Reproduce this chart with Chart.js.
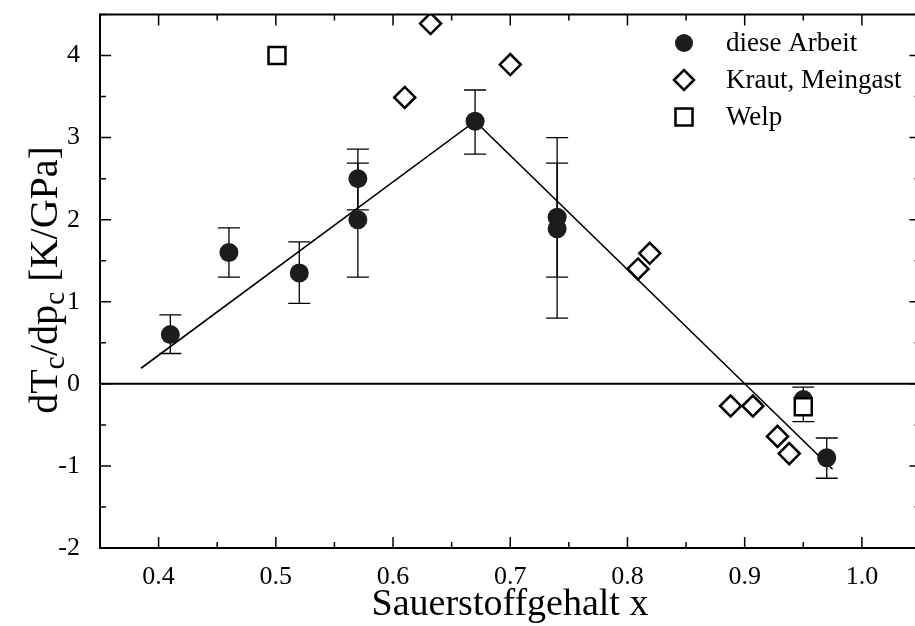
<!DOCTYPE html>
<html>
<head>
<meta charset="utf-8">
<script src="https://cdn.jsdelivr.net/npm/chart.js@4.4.1/dist/chart.umd.min.js"></script>
<style>
  html, body { margin: 0; padding: 0; background: #fff; overflow: hidden; }
  #wrap { width: 915px; height: 626px; overflow: hidden; }
</style>
</head>
<body>
<div id="wrap"><canvas id="chart" width="935" height="626"></canvas></div>
<script>
const SERIF = "'Liberation Serif', 'Times New Roman', serif";

// diese Arbeit (with error bars)
const arbeitX = [0.41, 0.46, 0.52, 0.57, 0.57, 0.67, 0.74, 0.74, 0.95, 0.97];
const arbeitY = [0.6, 1.6, 1.35, 2.5, 2.0, 3.2, 2.03, 1.89, -0.19, -0.9];
const arbeitLo = [0.37, 1.3, 0.98, 2.12, 1.3, 2.8, 1.3, 0.8, -0.46, -1.15];
const arbeitHi = [0.84, 1.9, 1.73, 2.86, 2.69, 3.58, 2.69, 3.0, -0.04, -0.66];

// Kraut, Meingast
const krautX = [0.61, 0.632, 0.70, 0.809, 0.819, 0.888, 0.907, 0.928, 0.938];
const krautY = [3.49, 4.39, 3.89, 1.4, 1.59, -0.27, -0.27, -0.64, -0.85];

// Welp
const welpX = [0.501, 0.95];
const welpY = [4.0, -0.28];

// guide line through the data
const fitX = [0.385, 0.67, 0.975];
const fitY = [0.19, 3.2, -1.04];

const zeroX = [0.35, 1.05];
const zeroY = [0, 0];

const legendLabels = ["diese Arbeit", "Kraut, Meingast", "Welp"];

function pts(xs, ys) {
  return xs.map((v, i) => ({ x: v, y: ys[i] }));
}

function isMajor(v, step) {
  const r = v / step;
  return Math.abs(r - Math.round(r)) < 1e-6;
}

// error bars under the filled circles
const errorBars = {
  id: "errorBars",
  beforeDatasetsDraw(chart) {
    const { ctx, scales } = chart;
    ctx.save();
    ctx.strokeStyle = "#000";
    ctx.lineWidth = 1.3;
    arbeitX.forEach((v, i) => {
      const px = scales.x.getPixelForValue(v);
      const top = scales.y.getPixelForValue(arbeitHi[i]);
      const bot = scales.y.getPixelForValue(arbeitLo[i]);
      ctx.beginPath();
      ctx.moveTo(px, top);
      ctx.lineTo(px, bot);
      ctx.moveTo(px - 11, top);
      ctx.lineTo(px + 11, top);
      ctx.moveTo(px - 11, bot);
      ctx.lineTo(px + 11, bot);
      ctx.stroke();
    });
    ctx.restore();
  },
};

// box frame, inward ticks, titles and legend
const frame = {
  id: "frame",
  afterDraw(chart) {
    const { ctx, chartArea: a, scales } = chart;
    ctx.save();
    ctx.strokeStyle = "#000";
    ctx.lineWidth = 2;
    ctx.strokeRect(a.left, a.top, a.right - a.left, a.bottom - a.top);

    ctx.lineWidth = 1.5;
    ctx.beginPath();
    scales.x.ticks.forEach((t) => {
      const px = scales.x.getPixelForValue(t.value);
      const len = isMajor(t.value, 0.1) ? 11 : 6;
      ctx.moveTo(px, a.bottom);
      ctx.lineTo(px, a.bottom - len);
      ctx.moveTo(px, a.top);
      ctx.lineTo(px, a.top + len);
    });
    scales.y.ticks.forEach((t) => {
      const py = scales.y.getPixelForValue(t.value);
      const len = isMajor(t.value, 1) ? 11 : 6;
      ctx.moveTo(a.left, py);
      ctx.lineTo(a.left + len, py);
      ctx.moveTo(a.right, py);
      ctx.lineTo(a.right - len, py);
    });
    ctx.stroke();

    // x title
    ctx.fillStyle = "#000";
    ctx.font = "38px " + SERIF;
    ctx.textAlign = "center";
    ctx.textBaseline = "alphabetic";
    ctx.fillText("Sauerstoffgehalt x", 510, 615);

    // y title with subscripts
    const big = "40px " + SERIF;
    const small = "30px " + SERIF;
    const parts = [
      ["dT", big, 0],
      ["c", small, 10],
      ["/dp", big, 0],
      ["c", small, 10],
      [" [K/GPa]", big, 0],
    ];
    let total = 0;
    parts.forEach((p) => {
      ctx.font = p[1];
      total += ctx.measureText(p[0]).width;
    });
    ctx.save();
    ctx.translate(46, 280);
    ctx.rotate(-Math.PI / 2);
    ctx.textAlign = "left";
    ctx.textBaseline = "middle";
    let cx = -total / 2;
    parts.forEach((p) => {
      ctx.font = p[1];
      ctx.fillText(p[0], cx, p[2]);
      cx += ctx.measureText(p[0]).width;
    });
    ctx.restore();

    // legend
    const lx = 684;
    const rows = [43, 80, 117];
    ctx.font = "27px " + SERIF;
    ctx.textAlign = "left";
    ctx.textBaseline = "middle";
    ctx.lineWidth = 2.5;
    ctx.beginPath();
    ctx.arc(lx, rows[0], 9, 0, Math.PI * 2);
    ctx.fillStyle = "#1c1c1c";
    ctx.fill();
    ctx.beginPath();
    ctx.moveTo(lx - 10, rows[1]);
    ctx.lineTo(lx, rows[1] - 10);
    ctx.lineTo(lx + 10, rows[1]);
    ctx.lineTo(lx, rows[1] + 10);
    ctx.closePath();
    ctx.stroke();
    ctx.strokeRect(lx - 8.5, rows[2] - 8.5, 17, 17);
    ctx.fillStyle = "#000";
    legendLabels.forEach((txt, i) => ctx.fillText(txt, 726, rows[i] + 1));
    ctx.restore();
  },
};

new Chart(document.getElementById("chart"), {
  type: "scatter",
  data: {
    datasets: [
      {
        label: legendLabels[2],
        data: pts(welpX, welpY),
        pointStyle: "rect",
        pointRadius: 12,
        pointBorderWidth: 2.5,
        borderColor: "#000",
        backgroundColor: "#fff",
        order: 0,
      },
      {
        label: legendLabels[1],
        data: pts(krautX, krautY),
        pointStyle: "rectRot",
        pointRadius: 10.5,
        pointBorderWidth: 2.5,
        borderColor: "#000",
        backgroundColor: "#fff",
        order: 1,
      },
      {
        label: legendLabels[0],
        data: pts(arbeitX, arbeitY),
        pointStyle: "circle",
        pointRadius: 9.5,
        pointBorderWidth: 0,
        borderColor: "#1c1c1c",
        backgroundColor: "#1c1c1c",
        order: 2,
      },
      {
        label: "fit",
        data: pts(fitX, fitY),
        showLine: true,
        pointRadius: 0,
        borderColor: "#000",
        borderWidth: 1.6,
        order: 3,
      },
      {
        label: "zero",
        data: pts(zeroX, zeroY),
        showLine: true,
        pointRadius: 0,
        borderColor: "#000",
        borderWidth: 2,
        order: 4,
      },
    ],
  },
  options: {
    responsive: false,
    animation: false,
    layout: { padding: { left: 0, top: 8, right: 5, bottom: 0 } },
    plugins: {
      legend: { display: false },
      tooltip: { enabled: false },
    },
    scales: {
      x: {
        type: "linear",
        min: 0.35,
        max: 1.05,
        grid: { display: false },
        border: { display: false },
        afterFit: (s) => {
          s.height = 78;
          s.paddingLeft = 0;
          s.paddingRight = 0;
        },
        ticks: {
          stepSize: 0.05,
          autoSkip: false,
          maxRotation: 0,
          padding: 6,
          color: "#000",
          font: { family: SERIF, size: 26 },
          callback: (v) => (isMajor(v, 0.1) ? v.toFixed(1) : ""),
        },
      },
      y: {
        min: -2,
        max: 4.5,
        grid: { display: false },
        border: { display: false },
        afterFit: (s) => {
          s.width = 100;
          s.paddingTop = 0;
          s.paddingBottom = 0;
        },
        ticks: {
          stepSize: 0.5,
          autoSkip: false,
          padding: 12,
          color: "#000",
          font: { family: SERIF, size: 26 },
          callback: (v) => (isMajor(v, 1) ? String(v) : ""),
        },
      },
    },
  },
  plugins: [errorBars, frame],
});
</script>
</body>
</html>
